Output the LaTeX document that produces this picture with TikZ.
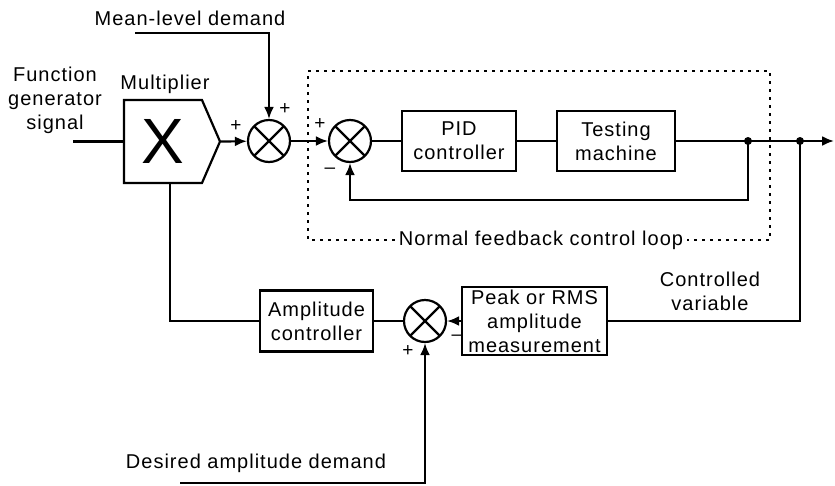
\documentclass[tikz,border=0pt]{standalone}
\usepackage{fontspec}
\setmainfont[LetterSpace=5]{Liberation Sans}
\usetikzlibrary{arrows.meta,positioning,shapes.symbols}
\newcommand{\lblfont}{\fontsize{20}{24}\selectfont}
\tikzset{sig/.style={line width=2.2pt},
  flow/.style={sig,-{Latex[length=12pt,width=10pt]}},
  blk/.style={draw,line width=2.2pt,align=center,inner sep=2pt,font=\lblfont},
  sumnode/.style={draw,circle,line width=2.2pt,minimum size=42pt,inner sep=0pt,
    path picture={\draw[line width=2.2pt] (path picture bounding box.center)
      +(45:21pt) -- +(225:21pt) +(135:21pt) -- +(-45:21pt);}},
  labeltext/.style={font=\lblfont,align=center,inner sep=0pt},
  signtext/.style={font=\fontsize{19}{19}\selectfont,inner sep=0pt},
  jdot/.style={circle,fill,inner sep=0pt,minimum size=8pt},
  loopbox/.style={line width=2.4pt,dash pattern=on 3pt off 5pt}}

\begin{document}
\begin{tikzpicture}[x=1pt, y=-1pt]
\useasboundingbox (0,0) rectangle (835,485);
% forward path
\node[labeltext] (fgs) at (55,100) {Function\\generator\\signal};
\coordinate (fin) at (73,141.5);
\node[blk, signal, signal to=east, signal pointer angle=133,
  minimum width=96pt, minimum height=83pt, inner sep=0pt,
  font=\fontsize{64}{64}\selectfont] (mult) at (163,141.5) {X};
\node[labeltext] (multlbl) at (165,84) {Multiplier};
\node[sumnode] (sumA) at (269,141) {};
\node[labeltext] (mean) at (190,18) {Mean-level demand};
\coordinate (meanin) at (135,33);
\node[sumnode] (sumB) at (350,141) {};
\node[blk, minimum width=114pt, minimum height=60pt] (pid) at (459,141) {PID\\controller};
\node[blk, minimum width=118pt, minimum height=60pt] (tm) at (616,141) {Testing\\machine};
\node[jdot] (dotA) at (748,141) {};
\node[jdot] (dotB) at (800,141) {};
\coordinate (out) at (834,141);
\coordinate (fbcorner) at (350,200);
% normal loop outline
\coordinate (lpNW) at (308,71);
\coordinate (lpSE) at (770,240);
\node[labeltext, inner xsep=4pt] (looplbl) at (541,240) {Normal feedback control loop};
% amplitude loop
\node[blk, minimum width=145pt, minimum height=68pt, inner sep=0pt] (peak) at (534.5,321)
  {Peak or RMS\\amplitude\\measurement};
\node[labeltext] (cvar) at (710,291) {Controlled\\variable};
\node[sumnode] (sumC) at (425,321) {};
\node[blk, minimum width=113pt, minimum height=61pt] (amp) at (316.5,321) {Amplitude\\controller};
\node[labeltext] (desired) at (256,463) {Desired amplitude demand};
\coordinate (desin) at (180,483);
% signs
\node[signtext] (sAin) at (236,126) {+};
\node[signtext] (sAtop) at (285,109) {+};
\node[signtext] (sBin) at (320,124) {+};
\node[signtext] (sBfb) at (330,171) {--};
\node[signtext] (sCfb) at (457,338) {--};
\node[signtext] (sCin) at (408,351) {+};

\draw[sig] (fin) -- (mult.west);
\draw[flow] (mult.east) -- (sumA);
\draw[flow] (meanin) -| (sumA.north);
\draw[flow] (sumA) -- (sumB);
\draw[sig] (sumB) -- (pid);
\draw[sig] (pid) -- (tm);
\draw[flow] (tm) -- (out);
\draw[flow] (dotA.center) |- (fbcorner) -- (sumB.south);
\draw[loopbox] (looplbl.west) -| (lpNW) -| (lpSE) -- (looplbl.east);
\draw[sig] (dotB.center) |- (peak.east);
\draw[flow] (peak) -- (sumC);
\draw[sig] (sumC) -- (amp);
\draw[sig] (amp.west) -| ([xshift=7pt]mult.south);
\draw[flow] (desin) -| (sumC.south);
\end{tikzpicture}
\end{document}
